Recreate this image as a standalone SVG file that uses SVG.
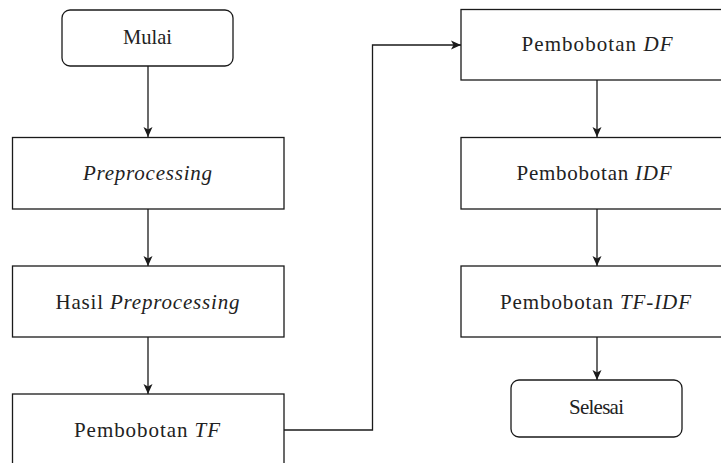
<svg xmlns="http://www.w3.org/2000/svg" width="721" height="463" viewBox="0 0 721 463">
<defs>
<style>
.box{fill:#fff;stroke:#1a1a1a;stroke-width:1.3}
.lbl{font-size:21px;fill:#222;text-anchor:middle}
.it{font-style:italic}
.edge{fill:none;stroke:#1a1a1a;stroke-width:1.3}
</style>
<marker id="arr" markerUnits="userSpaceOnUse" markerWidth="10" markerHeight="10" refX="10" refY="5" orient="auto" viewBox="0 0 10 10">
<path d="M0,0.5 L10,5 L0,9.5 L2.5,5 Z" fill="#1a1a1a"/>
</marker>
</defs>
<rect width="721" height="463" fill="#fff"/>
<g id="edges">
<path class="edge" d="M148,66 V137" marker-end="url(#arr)"/>
<path class="edge" d="M148,209 V266" marker-end="url(#arr)"/>
<path class="edge" d="M148,337 V394" marker-end="url(#arr)"/>
<path class="edge" d="M284,430 H372.5 V45 H461" marker-end="url(#arr)"/>
<path class="edge" d="M597,80 V137" marker-end="url(#arr)"/>
<path class="edge" d="M597,209 V266" marker-end="url(#arr)"/>
<path class="edge" d="M597,337 V380" marker-end="url(#arr)"/>
</g>
<g id="mulai">
<rect class="box" x="62" y="10" width="171" height="56" rx="8"/>
<text class="lbl" font-family="Liberation Serif" x="147.5" y="43.5" textLength="49" lengthAdjust="spacingAndGlyphs">Mulai</text>
</g>
<g id="preprocessing">
<rect class="box" x="12.5" y="137.5" width="271.5" height="71.5"/>
<text class="lbl it" font-family="Liberation Serif" x="147.5" y="180" textLength="129" lengthAdjust="spacing">Preprocessing</text>
</g>
<g id="hasil">
<rect class="box" x="12.5" y="266" width="271.5" height="71"/>
<text class="lbl" font-family="Liberation Serif" x="147.5" y="308.5" textLength="184" lengthAdjust="spacing">Hasil <tspan class="it">Preprocessing</tspan></text>
</g>
<g id="tf">
<rect class="box" x="12.5" y="394" width="271.5" height="72"/>
<text class="lbl" font-family="Liberation Serif" x="147" y="437" textLength="146" lengthAdjust="spacing">Pembobotan <tspan class="it">TF</tspan></text>
</g>
<g id="df">
<rect class="box" x="461" y="9.5" width="272" height="70.5"/>
<text class="lbl" font-family="Liberation Serif" x="597" y="50.5" textLength="151" lengthAdjust="spacing">Pembobotan <tspan class="it">DF</tspan></text>
</g>
<g id="idf">
<rect class="box" x="461" y="137.5" width="272" height="71.5"/>
<text class="lbl" font-family="Liberation Serif" x="594" y="180" textLength="155" lengthAdjust="spacing">Pembobotan <tspan class="it">IDF</tspan></text>
</g>
<g id="tfidf">
<rect class="box" x="461" y="266" width="272" height="71"/>
<text class="lbl" font-family="Liberation Serif" x="595.5" y="308.5" textLength="191" lengthAdjust="spacing">Pembobotan <tspan class="it">TF-IDF</tspan></text>
</g>
<g id="selesai">
<rect class="box" x="511" y="380" width="171" height="57" rx="8"/>
<text class="lbl" font-family="Liberation Serif" x="596.5" y="414" textLength="55" lengthAdjust="spacing">Selesai</text>
</g>
</svg>
